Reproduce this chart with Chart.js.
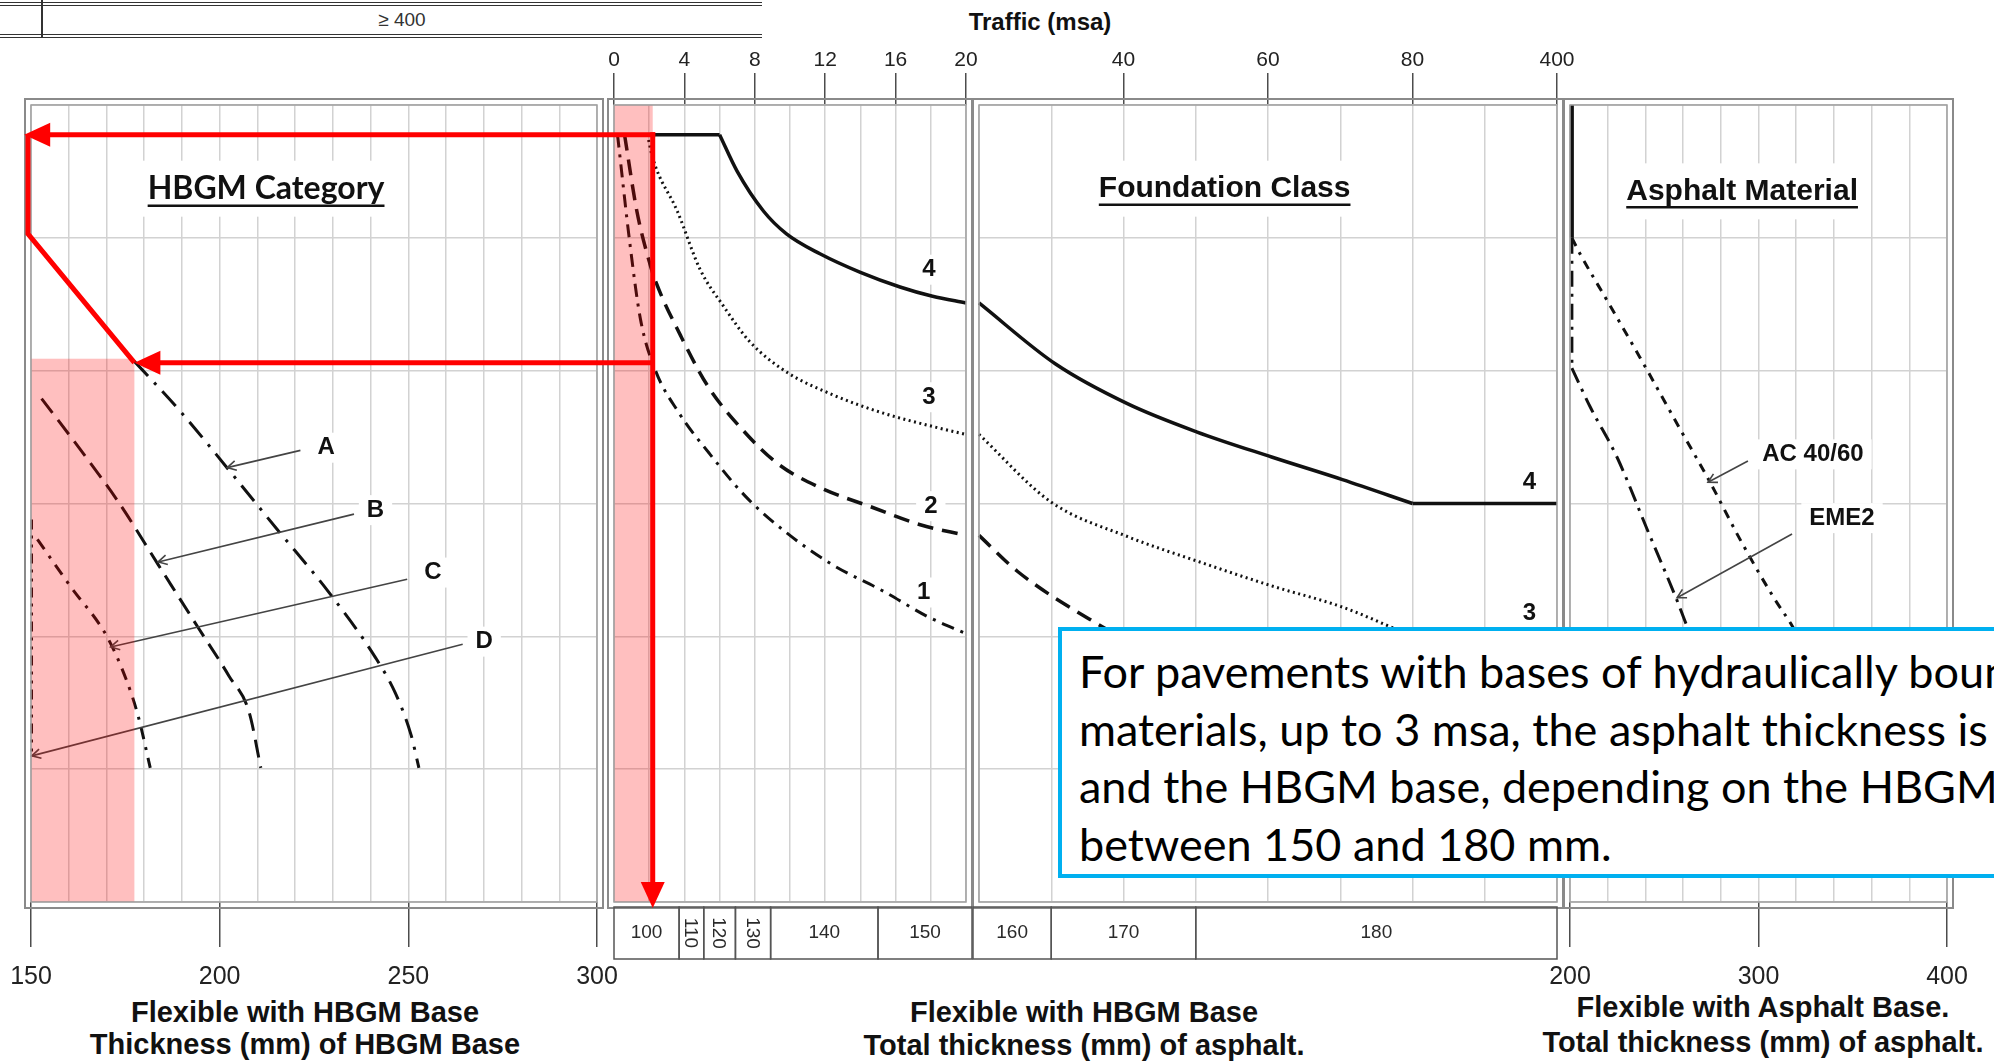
<!DOCTYPE html>
<html lang="en">
<head>
<meta charset="utf-8">
<title>Flexible pavement design chart</title>
<script src="https://cdn.jsdelivr.net/npm/chart.js@4.4.1/dist/chart.umd.min.js"></script>
<style>
  html, body { margin: 0; padding: 0; background: #fff; }
  #stage { position: relative; width: 1994px; height: 1063px; overflow: hidden; background: #fff; }
  #stage canvas { position: absolute; left: 0; top: 0; }
  .rule { position: absolute; background: #333; }
  .cap { position: absolute; white-space: nowrap; text-align: center; color: #111;
         font-family: "Liberation Sans", Arial, Helvetica, sans-serif; font-weight: bold; }
  #note { position: absolute; left: 1058px; top: 627px; width: 1100px; height: 231px;
          border: 4px solid #00b0f0; background: #fff; padding: 12px 0 0 17px;
          font-family: Lato, "Noto Sans", sans-serif; font-size: 45px; line-height: 57.7px;
          color: #000; white-space: nowrap; z-index: 5; overflow: hidden; }
</style>
</head>
<body>
<div id="stage">
  <!-- last row of the traffic table above the chart -->
  <div class="rule" style="left:0;top:2px;width:762px;height:1px"></div>
  <div class="rule" style="left:0;top:5px;width:762px;height:1px"></div>
  <div class="rule" style="left:0;top:34px;width:762px;height:1px"></div>
  <div class="rule" style="left:0;top:37px;width:762px;height:1px"></div>
  <div class="rule" style="left:41px;top:0;width:1.5px;height:38px"></div>
  <div class="cap" style="left:302px;top:8px;width:200px;font-weight:normal;font-size:19px;line-height:24px;color:#333">≥ 400</div>

  <div class="cap" style="left:890px;top:6px;width:300px;font-size:24px;line-height:32px">Traffic (msa)</div>

  <!-- axis captions under the panels -->
  <div class="cap" style="left:5px;top:995px;width:600px;font-size:29px;line-height:34px">Flexible with HBGM Base</div>
  <div class="cap" style="left:5px;top:1027px;width:600px;font-size:29px;line-height:34px">Thickness (mm) of HBGM Base</div>
  <div class="cap" style="left:784px;top:995px;width:600px;font-size:29px;line-height:34px">Flexible with HBGM Base</div>
  <div class="cap" style="left:784px;top:1028px;width:600px;font-size:29px;line-height:34px">Total thickness (mm) of asphalt.</div>
  <div class="cap" style="left:1463px;top:990px;width:600px;font-size:29px;line-height:34px">Flexible with Asphalt Base.</div>
  <div class="cap" style="left:1463px;top:1025px;width:600px;font-size:29px;line-height:34px">Total thickness (mm) of asphalt.</div>

  <div id="note">For pavements with bases of hydraulically bound<br>materials, up to 3 msa, the asphalt thickness is 100 mm<br>and the HBGM base, depending on the HBGM category, is<br>between 150 and 180 mm.</div>
</div>

<script>
// ---------- axis labels ----------
const lowTrafficLabels   = [0, 4, 8, 12, 16, 20];      // msa, left traffic panel
const highTrafficLabels  = [40, 60, 80, 400];          // msa, right traffic panel
const hbgmThickLabels    = [150, 200, 250, 300];       // mm of HBGM base
const asphaltThickLabels = [200, 300, 400];            // mm of asphalt

// ---------- foundation class curves: traffic (msa) -> chart level ----------
const fc4Traffic = [0, 6, 7, 8.5, 9.8, 11.7, 14, 16.25, 18.1, 20, 30.6, 40.6, 50.1, 60.5, 70.3, 80, 400];
const fc4Level   = [0.224, 0.224, 0.5, 0.8, 0.97, 1.12, 1.26, 1.37, 1.44, 1.49, 1.95, 2.25, 2.46, 2.65, 2.82, 3.0, 3.0];
const fc3Traffic = [1.9, 2.2, 3.6, 4.9, 6.2, 7.7, 9.8, 12.4, 15.3, 18.1, 20, 30, 40.6, 50, 60.5, 70.3, 80, 400];
const fc3Level   = [0.224, 0.4, 0.8, 1.24, 1.51, 1.78, 2.01, 2.18, 2.32, 2.42, 2.48, 2.99, 3.25, 3.43, 3.62, 3.78, 4.0, 4.0];
const fc2Traffic = [0.6, 1.3, 2.05, 2.4, 3.8, 5.3, 7.2, 9.3, 11.7, 14.7, 17.4, 20, 25.3, 35.9, 50, 65, 80, 400];
const fc2Level   = [0.224, 0.8, 1.2, 1.34, 1.74, 2.11, 2.43, 2.7, 2.88, 3.03, 3.16, 3.24, 3.51, 3.89, 4.3, 4.6, 4.8, 4.8];
const fc1Traffic = [0.2, 0.9, 1.5, 2.3, 3.7, 5.4, 7.5, 9.8, 12.4, 15.3, 17.8, 20];
const fc1Level   = [0.224, 1.04, 1.61, 1.98, 2.32, 2.62, 2.95, 3.22, 3.46, 3.66, 3.85, 3.98];

// ---------- HBGM categories: base thickness (mm) -> chart level ----------
const catAThick = [177.4, 190.0, 202.5, 215.1, 228.7, 241.3, 246.6, 250.7, 252.8];
const catALevel = [1.93, 2.32, 2.75, 3.19, 3.66, 4.16, 4.43, 4.74, 4.99];
const catBThick = [152.8, 162.7, 173.2, 183.7, 194.2, 202.5, 207.8, 210.9];
const catBLevel = [2.21, 2.58, 2.99, 3.46, 3.93, 4.30, 4.57, 4.99];
const catCThick = [151.7, 160.6, 170.1, 175.3, 178.4, 181.6];
const catCLevel = [3.27, 3.63, 4.00, 4.33, 4.60, 4.99];
const catDThick = [150.2, 150.2];
const catDLevel = [3.12, 4.90];

// ---------- asphalt materials: total asphalt (mm) -> chart level ----------
const stemThick  = [201, 201];
const stemLevel  = [0, 1.0];
const acThick    = [201, 205.3, 219.6, 237.1, 258.4, 274.3, 290.2, 307.7, 317.8, 333, 348];
const acLevel    = [1.0, 1.12, 1.47, 1.90, 2.44, 2.84, 3.27, 3.70, 3.92, 4.3, 4.7];
const emeThick   = [201, 201, 210.6, 224.9, 240.8, 256.8, 262, 275];
const emeLevel   = [1.0, 1.98, 2.27, 2.65, 3.19, 3.73, 3.92, 4.3];

// ---------- asphalt thickness bands along the traffic axis ----------
const asphaltThickness = [100, 110, 120, 130, 140, 150, 160, 170, 180];
const bandFromMsa      = [0, 3.7, 5.1, 6.9, 8.9, 15, 20, 30, 50];
const bandToMsa        = [3.7, 5.1, 6.9, 8.9, 15, 20, 30, 50, 400];

// ---------- worked example ----------
const exampleTraffic   = 2.2;                 // msa
const exampleLevels    = [0.224, 1.94];       // top line, reading off class 1
const exampleBase      = [148.2, 149.2, 177.4];
const exampleBendLevel = 0.97;
const shadedBase       = [150, 177.4];
const shadedBaseLevel  = 1.91;

// ---------- page layout ----------
Chart.defaults.font.family = '"Liberation Sans", Arial, Helvetica, sans-serif';
Chart.defaults.color = '#222';

const PAGE_W = 1994, PAGE_H = 1063;
const PLOT_TOP = 105, PLOT_BOTTOM = 902;
const Y_MIN = 0, Y_MAX = 6;
const GRID = '#d2d2d2';
const INK = '#111';

const panels = {
  hbgm:    { left: 31,   right: 597 },
  low:     { left: 614,  right: 966 },
  high:    { left: 979,  right: 1557 },
  asphalt: { left: 1570, right: 1947 }
};

const lineStyles = {
  fc4:  { width: 3.5, dash: [] },
  fc3:  { width: 3,   dash: [2, 3.5] },
  fc2:  { width: 3.5, dash: [16, 9] },
  fc1:  { width: 3,   dash: [13, 7, 3, 7] },
  catA: { width: 3,   dash: [20, 9, 3, 9] },
  catB: { width: 3,   dash: [18, 9] },
  catC: { width: 3,   dash: [12, 8, 3, 8] },
  catD: { width: 2.5, dash: [10, 6, 3, 6, 3, 6] },
  stem: { width: 4,   dash: [] },
  ac:   { width: 3,   dash: [9, 7, 3, 7] },
  eme:  { width: 3,   dash: [16, 7, 3, 7] }
};

// 20-80 msa is linear; 80-400 msa is folded into the last 20 msa step
function squeeze(msa) { return msa <= 80 ? msa : 80 + (msa - 80) / 16; }
function unsqueeze(u) { return u <= 80 ? u : 80 + (u - 80) * 16; }

// split a series into smooth pieces at its corner points, keeping a given x range
function curve(xs, ys, opt = {}) {
  const lo = opt.min ?? -Infinity, hi = opt.max ?? Infinity;
  const corners = opt.corners || [];
  const map = opt.map || (v => v);
  const segs = []; let cur = [];
  xs.forEach((x, i) => {
    if (x < lo || x > hi) return;
    cur.push({ x: map(x), y: ys[i] });
    if (corners.includes(x) && cur.length > 1) { segs.push(cur); cur = [{ x: map(x), y: ys[i] }]; }
  });
  if (cur.length > 1) segs.push(cur);
  return segs;
}

function lineSets(segs, st) {
  return segs.map(s => ({
    data: s, showLine: true, pointRadius: 0, fill: false,
    borderColor: INK, borderWidth: st.width, borderDash: st.dash,
    cubicInterpolationMode: s.length > 2 ? 'monotone' : 'default', tension: 0, clip: 8
  }));
}

function xScale(c, axisHeight) {
  return {
    type: 'linear', position: c.position, min: c.min, max: c.max,
    ticks: {
      stepSize: c.step, autoSkip: false, maxRotation: 0, minRotation: 0,
      padding: c.tickPad, color: '#222', font: { size: c.tickSize, lineHeight: 1.2 },
      callback: v => { const s = c.label(v); return s === null ? '' : s; }
    },
    grid: {
      color: GRID, lineWidth: 1.5, drawTicks: true, tickLength: c.tickLen, tickWidth: 1.5,
      tickColor: ctx => (ctx.tick && c.label(ctx.tick.value) !== null) ? '#4d4d4d' : 'rgba(0,0,0,0)'
    },
    border: { display: false },
    afterFit: s => { s.height = axisHeight; s.paddingLeft = 0; s.paddingRight = 0; }
  };
}

const stage = document.getElementById('stage');

function makeChart(panel, xc, datasets, decor) {
  const cv = document.createElement('canvas');
  cv.width = PAGE_W; cv.height = PAGE_H;
  stage.appendChild(cv);
  const top = xc.position === 'top';
  return new Chart(cv, {
    type: 'scatter',
    data: { datasets },
    options: {
      responsive: false, animation: false, events: [],
      layout: { padding: { left: panel.left, right: PAGE_W - panel.right,
                           top: top ? 0 : PLOT_TOP, bottom: top ? PAGE_H - PLOT_BOTTOM : 0 } },
      plugins: { legend: { display: false }, tooltip: { enabled: false } },
      scales: {
        x: xScale(xc, top ? PLOT_TOP : PAGE_H - PLOT_BOTTOM),
        y: { type: 'linear', min: Y_MIN, max: Y_MAX, reverse: true,
             ticks: { display: false, stepSize: 1 },
             grid: { color: GRID, lineWidth: 1.5, drawTicks: false },
             border: { display: false },
             afterFit: s => { s.width = 0; } }
      }
    },
    plugins: [decor]
  });
}

// ---------- drawing helpers ----------
function textBox(ctx, text, x, y, font, opt = {}) {
  ctx.save();
  ctx.font = font; ctx.textAlign = 'center'; ctx.textBaseline = 'middle';
  const w = ctx.measureText(text).width;
  const h = opt.h || 30, px = opt.padX ?? 8;
  ctx.fillStyle = '#fff';
  ctx.fillRect(x - w / 2 - px, y - h / 2, w + 2 * px, h);
  ctx.fillStyle = INK;
  ctx.fillText(text, x, y);
  if (opt.underline) {
    ctx.strokeStyle = INK; ctx.lineWidth = 2.5;
    ctx.beginPath(); ctx.moveTo(x - w / 2, y + opt.underline); ctx.lineTo(x + w / 2, y + opt.underline); ctx.stroke();
  }
  ctx.restore();
}

function leader(ctx, x0, y0, x1, y1) {
  ctx.save();
  ctx.strokeStyle = '#444'; ctx.lineWidth = 1.6;
  ctx.beginPath(); ctx.moveTo(x0, y0); ctx.lineTo(x1, y1); ctx.stroke();
  const a = Math.atan2(y1 - y0, x1 - x0), L = 10, W = 0.5;
  ctx.beginPath();
  ctx.moveTo(x1 - L * Math.cos(a - W), y1 - L * Math.sin(a - W));
  ctx.lineTo(x1, y1);
  ctx.lineTo(x1 - L * Math.cos(a + W), y1 - L * Math.sin(a + W));
  ctx.stroke();
  ctx.restore();
}

function frame(chart) {
  const { ctx, chartArea: a } = chart;
  ctx.save();
  ctx.strokeStyle = '#8a8a8a'; ctx.lineWidth = 2;
  ctx.strokeRect(a.left - 6, a.top - 6, a.right - a.left + 12, a.bottom - a.top + 12);
  ctx.strokeStyle = '#a0a0a0'; ctx.lineWidth = 1.5;
  ctx.strokeRect(a.left, a.top, a.right - a.left, a.bottom - a.top);
  ctx.restore();
}

function shade(ctx, x0, x1, y0, y1) {
  ctx.save();
  ctx.fillStyle = 'rgba(255, 0, 0, 0.25)';
  ctx.fillRect(x0, y0, x1 - x0, y1 - y0);
  ctx.restore();
}

function thicknessBands(chart, lo, hi, map, extendL, extendR) {
  const { ctx } = chart; const X = chart.scales.x;
  const top = chart.chartArea.bottom + 5, bot = top + 52;
  ctx.save();
  ctx.strokeStyle = '#555'; ctx.lineWidth = 1.5;
  ctx.font = '19px "Liberation Sans"'; ctx.textAlign = 'center'; ctx.textBaseline = 'middle';
  asphaltThickness.forEach((mm, i) => {
    const a = Math.max(bandFromMsa[i], lo), b = Math.min(bandToMsa[i], hi);
    if (b <= a) return;
    let x0 = X.getPixelForValue(map(a)), x1 = X.getPixelForValue(map(b));
    if (extendL && a === lo) x0 -= 6;
    if (extendR && b === hi) x1 += 6;
    ctx.strokeRect(x0, top, x1 - x0, bot - top);
    ctx.fillStyle = '#2a2a2a';
    const cx = (x0 + x1) / 2, cy = (top + bot) / 2;
    if (x1 - x0 < 40) {
      ctx.save(); ctx.translate(cx, cy); ctx.rotate(Math.PI / 2); ctx.fillText(String(mm), 0, 1); ctx.restore();
    } else {
      ctx.fillText(String(mm), cx, cy);
    }
  });
  ctx.restore();
}

function arrow(ctx, pts, head) {
  const n = pts.length;
  let end = pts[n - 1], tip = null;
  if (head) {
    const [ax, ay] = pts[n - 2], [bx, by] = pts[n - 1];
    const ang = Math.atan2(by - ay, bx - ax);
    tip = { x: bx, y: by, a: ang };
    end = [bx - 20 * Math.cos(ang), by - 20 * Math.sin(ang)];
  }
  ctx.beginPath(); ctx.moveTo(pts[0][0], pts[0][1]);
  for (let i = 1; i < n - 1; i++) ctx.lineTo(pts[i][0], pts[i][1]);
  ctx.lineTo(end[0], end[1]); ctx.stroke();
  if (tip) {
    const L = 26, W = 12, c = Math.cos(tip.a), s = Math.sin(tip.a);
    ctx.beginPath();
    ctx.moveTo(tip.x, tip.y);
    ctx.lineTo(tip.x - L * c - W * s, tip.y - L * s + W * c);
    ctx.lineTo(tip.x - L * c + W * s, tip.y - L * s - W * c);
    ctx.closePath(); ctx.fill();
  }
}

// ---------- annotations ----------
const catNames    = ['A', 'B', 'C', 'D'];
const catNameAt   = [[228.2, 2.58], [241.3, 3.05], [256.5, 3.52], [270.1, 4.04]];
const catLeadFrom = [[221.4, 2.60], [235.6, 3.08], [249.7, 3.57], [264.4, 4.06]];
const catLeadTo   = [[202.0, 2.73], [183.7, 3.44], [171.1, 4.08], [150.2, 4.90]];
const lowClassNames  = ['4', '3', '2', '1'];
const lowClassAt     = [[17.9, 1.24], [17.9, 2.2], [18.0, 3.02], [17.6, 3.67]];
const highClassNames = ['4', '3'];
const highClassAt    = [[339, 2.84], [339, 3.83]];
const matNames    = ['AC 40/60', 'EME2'];
const matNameAt   = [[328.9, 2.63], [344.3, 3.11]];
const matLeadFrom = [[294.4, 2.68], [317.8, 3.23]];
const matLeadTo   = [[273.2, 2.84], [256.8, 3.71]];

const NUM_FONT  = 'bold 24px "Liberation Sans"';
const NAME_FONT = 'bold 24px "Liberation Sans"';
const HEAD_FONT = 'bold 30px "Liberation Sans"';

let hbgmChart, lowChart, highChart, asphaltChart;

const hbgmDecor = {
  id: 'hbgmDecor',
  beforeDatasetsDraw(chart) {
    const { ctx, scales: { x, y } } = chart;
    textBox(ctx, 'HBGM Category', x.getPixelForValue(212.3), y.getPixelForValue(0.63), 'bold 32px Lato', { h: 56, padX: 8, underline: 17 });
    catNames.forEach((n, i) => textBox(ctx, n, x.getPixelForValue(catNameAt[i][0]), y.getPixelForValue(catNameAt[i][1]), NAME_FONT));
  },
  afterDatasetsDraw(chart) {
    const { ctx, scales: { x, y } } = chart;
    catNames.forEach((n, i) => leader(ctx,
      x.getPixelForValue(catLeadFrom[i][0]), y.getPixelForValue(catLeadFrom[i][1]),
      x.getPixelForValue(catLeadTo[i][0]), y.getPixelForValue(catLeadTo[i][1])));
    shade(ctx, x.getPixelForValue(shadedBase[0]), x.getPixelForValue(shadedBase[1]),
          y.getPixelForValue(shadedBaseLevel), y.getPixelForValue(Y_MAX));
    frame(chart);
  }
};

const lowDecor = {
  id: 'lowDecor',
  beforeDatasetsDraw(chart) {
    const { ctx, scales: { x, y } } = chart;
    lowClassNames.forEach((n, i) => textBox(ctx, n, x.getPixelForValue(lowClassAt[i][0]), y.getPixelForValue(lowClassAt[i][1]), NUM_FONT));
  },
  afterDatasetsDraw(chart) {
    const { ctx, scales: { x, y } } = chart;
    shade(ctx, x.getPixelForValue(0), x.getPixelForValue(exampleTraffic), y.getPixelForValue(Y_MIN), y.getPixelForValue(Y_MAX));
    frame(chart);
    thicknessBands(chart, 0, 20, v => v, false, true);
  }
};

const highDecor = {
  id: 'highDecor',
  beforeDatasetsDraw(chart) {
    const { ctx, scales: { x, y } } = chart;
    textBox(ctx, 'Foundation Class', x.getPixelForValue(squeeze(54)), y.getPixelForValue(0.63), HEAD_FONT, { h: 56, underline: 16 });
    highClassNames.forEach((n, i) => textBox(ctx, n, x.getPixelForValue(squeeze(highClassAt[i][0])), y.getPixelForValue(highClassAt[i][1]), NUM_FONT));
  },
  afterDatasetsDraw(chart) {
    frame(chart);
    thicknessBands(chart, 20, 400, squeeze, true, false);
  }
};

const asphaltDecor = {
  id: 'asphaltDecor',
  beforeDatasetsDraw(chart) {
    const { ctx, scales: { x, y } } = chart;
    textBox(ctx, 'Asphalt Material', x.getPixelForValue(291.3), y.getPixelForValue(0.65), HEAD_FONT, { h: 56, underline: 16 });
    matNames.forEach((n, i) => textBox(ctx, n, x.getPixelForValue(matNameAt[i][0]), y.getPixelForValue(matNameAt[i][1]), NAME_FONT));
  },
  afterDatasetsDraw(chart) {
    const { ctx, scales: { x, y } } = chart;
    matNames.forEach((n, i) => leader(ctx,
      x.getPixelForValue(matLeadFrom[i][0]), y.getPixelForValue(matLeadFrom[i][1]),
      x.getPixelForValue(matLeadTo[i][0]), y.getPixelForValue(matLeadTo[i][1])));
    frame(chart);
  },
  afterDraw(chart) {
    // worked example: read up from the traffic, across to the HBGM category
    const ctx = chart.ctx;
    const hx = v => hbgmChart.scales.x.getPixelForValue(v);
    const tx = v => lowChart.scales.x.getPixelForValue(v);
    const ly = v => lowChart.scales.y.getPixelForValue(v);
    const xr = tx(exampleTraffic), yTop = ly(exampleLevels[0]), yMid = ly(exampleLevels[1]);
    ctx.save();
    ctx.strokeStyle = '#ff0000'; ctx.fillStyle = '#ff0000'; ctx.lineWidth = 5; ctx.lineJoin = 'miter';
    arrow(ctx, [[xr + 2.5, yTop], [hx(exampleBase[0]), yTop]], true);
    arrow(ctx, [[xr, yTop - 2.5], [xr, lowChart.chartArea.bottom + 6]], true);
    arrow(ctx, [[xr, yMid], [hx(exampleBase[2]), yMid]], true);
    arrow(ctx, [[hx(exampleBase[1]), yTop], [hx(exampleBase[1]), ly(exampleBendLevel)], [hx(exampleBase[2]), yMid]], false);
    ctx.restore();
  }
};

// ---------- panels ----------
hbgmChart = makeChart(panels.hbgm, {
  position: 'bottom', min: 150, max: 300, step: 10, tickSize: 25, tickLen: 45, tickPad: 15,
  label: v => hbgmThickLabels.includes(v) ? String(v) : null
}, [
  ...lineSets(curve(catAThick, catALevel), lineStyles.catA),
  ...lineSets(curve(catBThick, catBLevel), lineStyles.catB),
  ...lineSets(curve(catCThick, catCLevel), lineStyles.catC),
  ...lineSets(curve(catDThick, catDLevel), lineStyles.catD)
], hbgmDecor);

lowChart = makeChart(panels.low, {
  position: 'top', min: 0, max: 20, step: 2, tickSize: 21, tickLen: 32, tickPad: 0,
  label: v => lowTrafficLabels.includes(v) ? String(v) : null
}, [
  ...lineSets(curve(fc4Traffic, fc4Level, { max: 20, corners: [6] }), lineStyles.fc4),
  ...lineSets(curve(fc3Traffic, fc3Level, { max: 20 }), lineStyles.fc3),
  ...lineSets(curve(fc2Traffic, fc2Level, { max: 20 }), lineStyles.fc2),
  ...lineSets(curve(fc1Traffic, fc1Level, { max: 20 }), lineStyles.fc1)
], lowDecor);

highChart = makeChart(panels.high, {
  position: 'top', min: 20, max: 100, step: 10, tickSize: 21, tickLen: 32, tickPad: 0,
  label: u => { const msa = Math.round(unsqueeze(u)); return highTrafficLabels.includes(msa) ? String(msa) : null; }
}, [
  ...lineSets(curve(fc4Traffic, fc4Level, { min: 20, corners: [80], map: squeeze }), lineStyles.fc4),
  ...lineSets(curve(fc3Traffic, fc3Level, { min: 20, corners: [80], map: squeeze }), lineStyles.fc3),
  ...lineSets(curve(fc2Traffic, fc2Level, { min: 20, corners: [80], map: squeeze }), lineStyles.fc2)
], highDecor);

asphaltChart = makeChart(panels.asphalt, {
  position: 'bottom', min: 200, max: 400, step: 20, tickSize: 25, tickLen: 45, tickPad: 15,
  label: v => asphaltThickLabels.includes(v) ? String(v) : null
}, [
  ...lineSets(curve(stemThick, stemLevel), lineStyles.stem),
  ...lineSets(curve(acThick, acLevel), lineStyles.ac),
  ...lineSets(curve(emeThick, emeLevel, { corners: [201] }), lineStyles.eme)
], asphaltDecor);
asphaltChart.draw();
</script>
</body>
</html>
